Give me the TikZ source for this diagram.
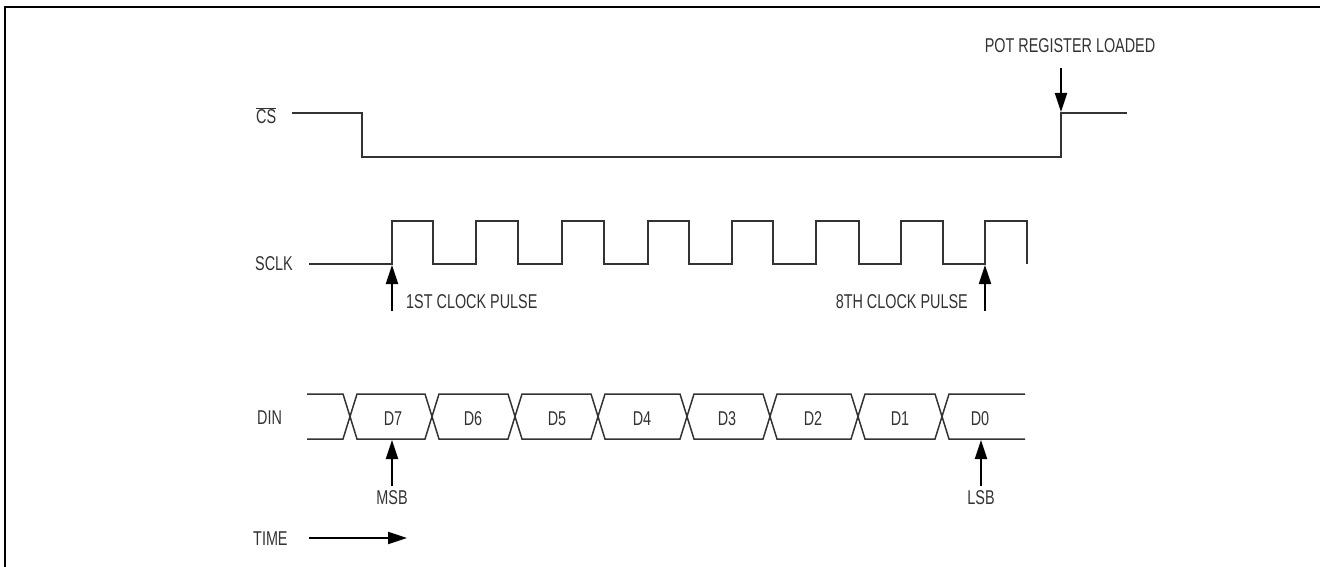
\documentclass[tikz,border=0pt]{standalone}
\usepackage{fontspec}
\setmainfont{Liberation Sans}[FakeStretch=0.72]
\usetikzlibrary{arrows.meta}
\begin{document}
\begin{tikzpicture}[x=1pt,y=-1pt,
  sig/.style={draw=black!80, line width=1.5pt, line join=miter},
  lbl/.style={text=black!80, font=\fontsize{20}{22}\selectfont, inner sep=0pt},
  ptr/.style={draw=black, line width=2pt, -{Triangle[length=19pt,width=12pt]}},
  frame/.style={draw=black, line width=2.2pt}]
\useasboundingbox (0,0) rectangle (1320,567);
\draw[frame] (5,567) -- (5,7) -- (1320,7);

% labels
\node[lbl, anchor=base west] (cs) at (256,124) {$\overline{\mbox{CS}}$};
\node[lbl, anchor=base west] (sclk) at (255,270) {SCLK};
\node[lbl, anchor=base west] (din) at (257,424) {DIN};
\node[lbl, anchor=base west] (time) at (253,545) {TIME};
\node[lbl, anchor=base] (pot) at (1070,53) {POT REGISTER LOADED};
\node[lbl, anchor=base west] (first) at (406,308) {1ST CLOCK PULSE};
\node[lbl, anchor=base east] (eighth) at (968,308) {8TH CLOCK PULSE};
\node[lbl, anchor=base] (msb) at (392,504) {MSB};
\node[lbl, anchor=base] (lsb) at (981,504) {LSB};

% CS waveform
\draw[sig] (292,113) -- (362,113) -- (362,157) -- (1061,157) -- (1061,113) -- (1127,113);

% SCLK waveform
\draw[sig] (309,264)
  foreach \r/\f in {392/433,476/518,562/604,648/689,732/773,816/859,901/943,985/1027}
  { -- (\r,264) -- (\r,221) -- (\f,221) -- (\f,264) };

% DIN waveform
\draw[sig] (307,394) -- (343,394) -- (350,416.5) -- (343,439) -- (307,439);
\foreach \a/\b/\t/\xm in {350/432/D7/393,432/515/D6/473,515/598/D5/557,598/687/D4/642,687/770/D3/727,770/858/D2/813,858/942/D1/900}{
  \draw[sig] (\a,416.5) -- (\a+7,394) -- (\b-7,394) -- (\b,416.5) -- (\b-7,439) -- (\a+7,439) -- cycle;
  \node[lbl, anchor=base] (d\t) at (\xm,425) {\t};
}
\draw[sig] (1025,394) -- (949,394) -- (942,416.5) -- (949,439) -- (1025,439);
\node[lbl, anchor=base] (dD0) at (980,425) {D0};

% pointer arrows
\coordinate (potT) at (1061,68);  \coordinate (potH) at (1061,112);
\coordinate (c1T) at (392,311);   \coordinate (c1H) at (392,265);
\coordinate (c8T) at (985,311);   \coordinate (c8H) at (985,265);
\coordinate (msbT) at (392,486);  \coordinate (msbH) at (392,440);
\coordinate (lsbT) at (981,486);  \coordinate (lsbH) at (981,440);
\coordinate (tT) at (309,538);    \coordinate (tH) at (407,538);
\draw[ptr] (potT) -- (potH);
\draw[ptr] (c1T) -- (c1H);
\draw[ptr] (c8T) -- (c8H);
\draw[ptr] (msbT) -- (msbH);
\draw[ptr] (lsbT) -- (lsbH);
\draw[ptr] (tT) -- (tH);
\end{tikzpicture}
\end{document}
